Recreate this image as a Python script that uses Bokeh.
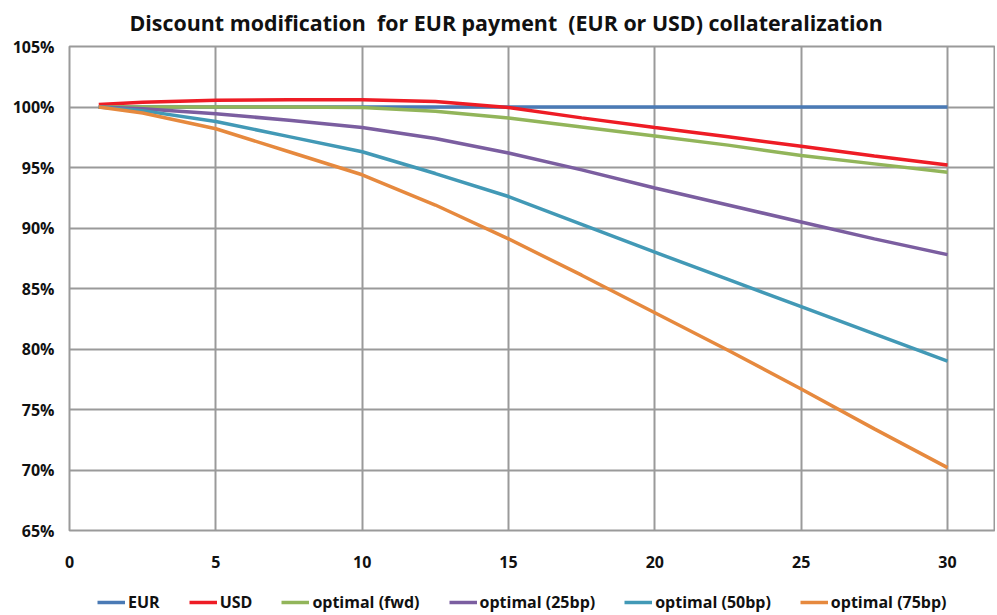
from bokeh.plotting import figure
from bokeh.layouts import column
from bokeh.models import Range1d, FixedTicker, NumeralTickFormatter, Legend, LegendItem, Title
from bokeh.embed import file_html
from bokeh.resources import INLINE

years = [1, 2.5, 5, 7.5, 10, 12.5, 15, 17.5, 20, 22.5, 25, 27.5, 30]
eur = [1.000] * 13
usd = [1.002, 1.004, 1.0055, 1.006, 1.006, 1.0045, 0.9995, 0.991, 0.983, 0.9755, 0.9675, 0.9595, 0.952]
opt_fwd = [1.000, 1.000, 1.000, 1.000, 0.9995, 0.9965, 0.991, 0.9835, 0.976, 0.9685, 0.960, 0.953, 0.946]
opt_25 = [1.000, 0.9985, 0.9945, 0.989, 0.983, 0.974, 0.962, 0.948, 0.933, 0.919, 0.905, 0.891, 0.878]
opt_50 = [1.000, 0.997, 0.988, 0.9755, 0.963, 0.945, 0.926, 0.903, 0.880, 0.8575, 0.835, 0.8125, 0.790]
opt_75 = [1.000, 0.995, 0.982, 0.963, 0.944, 0.919, 0.891, 0.861, 0.830, 0.799, 0.767, 0.734, 0.702]

series_names = ["EUR", "USD", "optimal (fwd)", "optimal (25bp)", "optimal (50bp)", "optimal (75bp)"]
series_vals = [eur, usd, opt_fwd, opt_25, opt_50, opt_75]
colors = ["#4A7AB5", "#EE1C25", "#92B55A", "#7B5EA0", "#4299B6", "#E6893E"]

x_ticks = [0, 5, 10, 15, 20, 25, 30]
y_ticks = [0.65, 0.70, 0.75, 0.80, 0.85, 0.90, 0.95, 1.00, 1.05]

FONT = "Open Sans"

p = figure(width=995, height=580, output_backend="svg", toolbar_location=None,
           x_range=Range1d(0, 31.64), y_range=Range1d(0.65, 1.05),
           min_border_left=69, min_border_right=0, min_border_top=44, min_border_bottom=50)
p.background_fill_color = "white"
p.border_fill_color = "white"
p.outline_line_color = "#9A9A9A"
p.outline_line_width = 2

title = Title(text="Discount modification\u00a0 for EUR payment\u00a0 (EUR or USD) collateralization",
              align="left", offset=60, text_font=FONT, text_font_style="bold",
              text_font_size="21.4px", text_color="#111111", vertical_align="top",
              standoff=15)
p.add_layout(title, "above")

p.xaxis.ticker = FixedTicker(ticks=x_ticks)
p.yaxis.ticker = FixedTicker(ticks=y_ticks)
p.yaxis.formatter = NumeralTickFormatter(format="0%")
for ax in (p.xaxis, p.yaxis):
    ax.axis_line_color = None
    ax.major_tick_line_color = None
    ax.minor_tick_line_color = None
    ax.major_tick_out = 0
    ax.major_tick_in = 0
    ax.minor_tick_out = 0
    ax.major_label_text_font = FONT
    ax.major_label_text_font_style = "bold"
    ax.major_label_text_font_size = "16px"
    ax.major_label_text_color = "#111111"
p.xaxis.major_label_standoff = 25
p.yaxis.major_label_standoff = 15

p.xgrid.ticker = FixedTicker(ticks=x_ticks)
p.ygrid.ticker = FixedTicker(ticks=y_ticks)
for g in (p.xgrid, p.ygrid):
    g.grid_line_color = "#9A9A9A"
    g.grid_line_width = 2

for name, vals, col in zip(series_names, series_vals, colors):
    p.line(years, vals, line_color=col, line_width=3.5)

# Legend strip below the chart (same series, drawn off-view so only the legend shows)
lg = figure(width=995, height=34, output_backend="svg", toolbar_location=None,
            x_range=Range1d(100, 101), y_range=Range1d(100, 101),
            min_border=0, x_axis_location=None, y_axis_location=None)
lg.outline_line_color = None
lg.xgrid.visible = False
lg.ygrid.visible = False
lg.background_fill_color = "white"
lg.border_fill_color = "white"
items = []
for name, vals, col in zip(series_names, series_vals, colors):
    r = lg.line(years, vals, line_color=col, line_width=3.5)
    items.append(LegendItem(label=name, renderers=[r]))

legend = Legend(items=items, orientation="horizontal", location=(28, 1),
                glyph_width=28, glyph_height=16, label_standoff=3, spacing=29,
                label_text_font=FONT, label_text_font_style="bold",
                label_text_font_size="16px", label_text_color="#111111",
                border_line_color=None, background_fill_alpha=0,
                padding=2, margin=0)
lg.add_layout(legend, "center")

layout = column(p, lg, spacing=0)
open("out.html", "w").write(file_html(layout, INLINE))
